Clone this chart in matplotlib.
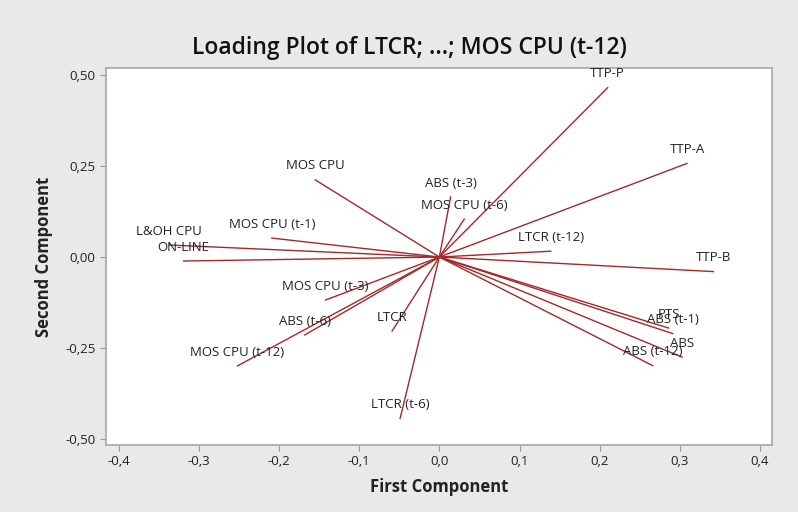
import matplotlib.pyplot as plt
from matplotlib.ticker import FuncFormatter

# loadings
variables = ['TTP-P', 'TTP-A', 'LTCR (t-12)', 'TTP-B', 'ABS (t-3)', 'MOS CPU (t-6)',
             'PTS', 'ABS (t-1)', 'ABS', 'ABS (t-12)',
             'MOS CPU', 'MOS CPU (t-1)', 'L&OH CPU', 'ON-LINE',
             'MOS CPU (t-3)', 'ABS (t-6)', 'MOS CPU (t-12)', 'LTCR', 'LTCR (t-6)']
first = [0.210, 0.309, 0.139, 0.342, 0.014, 0.031,
         0.286, 0.291, 0.303, 0.266,
         -0.155, -0.209, -0.337, -0.319,
         -0.142, -0.168, -0.252, -0.059, -0.049]
second = [0.465, 0.257, 0.016, -0.040, 0.165, 0.104,
          -0.195, -0.210, -0.275, -0.298,
          0.212, 0.052, 0.033, -0.011,
          -0.118, -0.214, -0.299, -0.203, -0.443]

xticks = [-0.4, -0.3, -0.2, -0.1, 0.0, 0.1, 0.2, 0.3, 0.4]
yticks = [-0.50, -0.25, 0.00, 0.25, 0.50]

plt.rcParams['font.family'] = ['Open Sans', 'DejaVu Sans']

fig = plt.figure(figsize=(7.98, 5.12), dpi=100, facecolor='#e9e9e9')
ax = fig.add_axes([0.1328, 0.1309, 0.8346, 0.7363])
ax.set_facecolor('white')

for name, x, y in zip(variables, first, second):
    ax.plot([0, x], [0, y], color='#a3282a', lw=1.0)
    ax.annotate(name, (x, y), xytext=(0, 10), textcoords='offset points',
                ha='center', va='center', fontsize=9.5, color='#222222')

ax.set_xlim(-0.416, 0.415)
ax.set_ylim(-0.516, 0.519)
ax.set_xticks(xticks)
ax.set_yticks(yticks)
ax.xaxis.set_major_formatter(FuncFormatter(lambda v, p: f'{v:.1f}'.replace('.', ',').replace('-0,0', '0,0')))
ax.yaxis.set_major_formatter(FuncFormatter(lambda v, p: f'{v:.2f}'.replace('.', ',').replace('-0,00', '0,00')))
ax.tick_params(direction='out', length=4, color='#999999', labelsize=9.5, labelcolor='#222222')
for s in ax.spines.values():
    s.set_color('#a8a8a8')
    s.set_linewidth(1.2)

ax.set_xlabel('First Component', fontsize=12, fontweight='bold', color='#222222', labelpad=7)
ax.set_ylabel('Second Component', fontsize=12, fontweight='bold', color='#222222', labelpad=9)
fig.suptitle('Loading Plot of LTCR; ...; MOS CPU (t-12)', fontsize=16.5, fontweight='semibold',
             color='#111111', x=0.513, y=0.93)

fig.savefig('out.png', dpi=100, facecolor=fig.get_facecolor())
